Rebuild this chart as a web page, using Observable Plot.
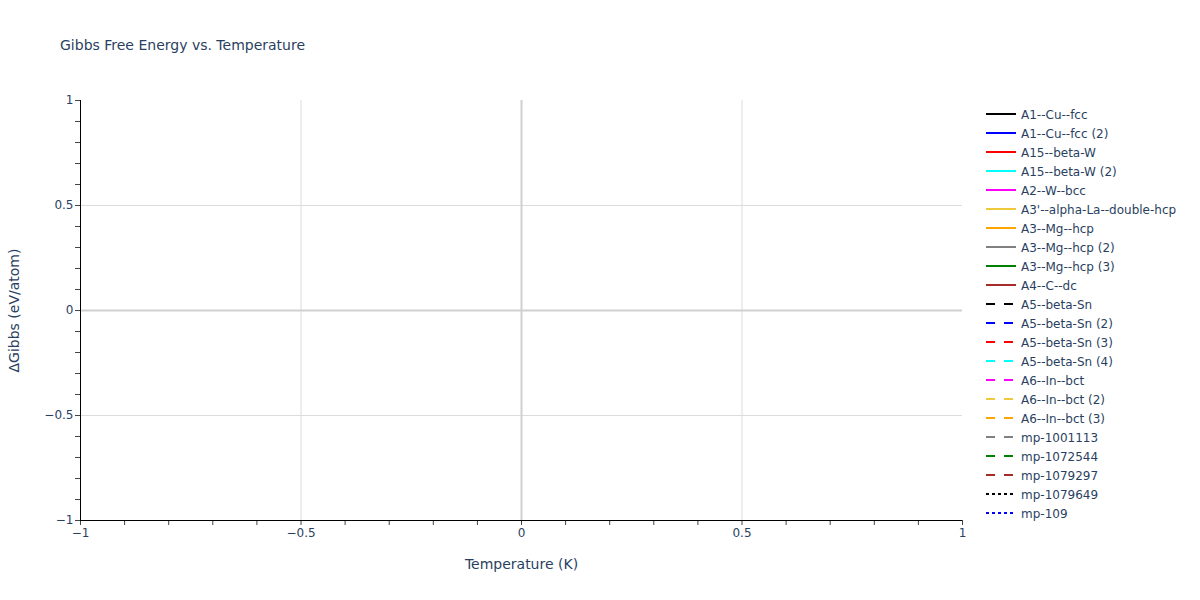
<!DOCTYPE html>
<html>
<head>
<meta charset="utf-8">
<script src="https://cdn.jsdelivr.net/npm/d3@7"></script>
<script src="https://cdn.jsdelivr.net/npm/@observablehq/plot@0.6"></script>
<style>
  html, body { margin: 0; padding: 0; background: #fff; }
  #wrap { position: relative; width: 1200px; height: 600px; font-family: "DejaVu Sans", Verdana, sans-serif; }
  #title { position: absolute; left: 60px; top: 37px; font-size: 14px; color: #2a3f5f; white-space: nowrap; }
  #legend { position: absolute; left: 980px; top: 102px; }
</style>
</head>
<body>
<div id="wrap">
  <div id="chart"></div>
  <div id="title">Gibbs Free Energy vs. Temperature</div>
  <svg id="legend" width="220" height="430"></svg>
</div>
<script>
// ---- data ----
const titleText = "Gibbs Free Energy vs. Temperature";
const xLabel = "Temperature (K)";
const yLabel = "ΔGibbs (eV/atom)";
const xDomain = [-1, 1];
const yDomain = [-1, 1];
const majorTicks = [-1, -0.5, 0, 0.5, 1];
const minorTicks = [-0.9, -0.8, -0.7, -0.6, -0.4, -0.3, -0.2, -0.1, 0.1, 0.2, 0.3, 0.4, 0.6, 0.7, 0.8, 0.9];
const gridValues = [-0.5, 0.5];
const zeroValues = [0];
const seriesNames = [
  "A1--Cu--fcc", "A1--Cu--fcc (2)", "A15--beta-W", "A15--beta-W (2)", "A2--W--bcc",
  "A3'--alpha-La--double-hcp", "A3--Mg--hcp", "A3--Mg--hcp (2)", "A3--Mg--hcp (3)", "A4--C--dc",
  "A5--beta-Sn", "A5--beta-Sn (2)", "A5--beta-Sn (3)", "A5--beta-Sn (4)", "A6--In--bct",
  "A6--In--bct (2)", "A6--In--bct (3)", "mp-1001113", "mp-1072544", "mp-1079297",
  "mp-1079649", "mp-109"
];
const seriesColors = [
  "#000000", "#0000ff", "#ff0000", "#00ffff", "#ff00ff",
  "#f0c83c", "#ffa500", "#808080", "#008000", "#a52a2a",
  "#000000", "#0000ff", "#ff0000", "#00ffff", "#ff00ff",
  "#f0c83c", "#ffa500", "#808080", "#008000", "#a52a2a",
  "#000000", "#0000ff"
];
const seriesDash = [
  "solid", "solid", "solid", "solid", "solid", "solid", "solid", "solid", "solid", "solid",
  "dash", "dash", "dash", "dash", "dash", "dash", "dash", "dash", "dash", "dash",
  "dot", "dot"
];

// ---- chart ----
const fontFamily = '"DejaVu Sans", Verdana, sans-serif';
const textColor = "#2a3f5f";
const fmt = d => (d < 0 ? "\u2212" : "") + Math.abs(d).toString();

const chart = Plot.plot({
  width: 1200,
  height: 600,
  marginLeft: 80,
  marginRight: 238,
  marginTop: 100,
  marginBottom: 80,
  style: { fontFamily, fontSize: "12px", color: textColor, background: "#fff" },
  x: { domain: xDomain },
  y: { domain: yDomain },
  marks: [
    Plot.ruleX(gridValues, { stroke: "#dcdcdc", strokeWidth: 1 }),
    Plot.ruleY(gridValues, { stroke: "#dcdcdc", strokeWidth: 1 }),
    Plot.ruleX(zeroValues, { stroke: "#d0d0d0", strokeWidth: 2 }),
    Plot.ruleY(zeroValues, { stroke: "#d0d0d0", strokeWidth: 2 }),
    Plot.axisX({ ticks: minorTicks, tickSize: 5, tickFormat: null, text: null, label: null, stroke: "#444", strokeOpacity: 1 }),
    Plot.axisY({ ticks: minorTicks, tickSize: 5, tickFormat: null, text: null, label: null, stroke: "#444", strokeOpacity: 1 }),
    Plot.axisX({ ticks: majorTicks, tickSize: 5, tickPadding: 3, tickFormat: fmt, label: null, stroke: "#444", strokeOpacity: 1, fill: textColor, fontSize: 12 }),
    Plot.axisY({ ticks: majorTicks, tickSize: 5, tickPadding: 2, tickFormat: fmt, label: null, stroke: "#444", strokeOpacity: 1, fill: textColor, fontSize: 12 }),
    Plot.ruleX([xDomain[0]], { stroke: "#000", strokeWidth: 1 }),
    Plot.ruleY([yDomain[0]], { stroke: "#000", strokeWidth: 1 }),
    Plot.text([xLabel], { frameAnchor: "bottom", dy: 48, text: d => d, fontSize: 14, fill: textColor }),
    Plot.text([yLabel], { frameAnchor: "left", textAnchor: "middle", dx: -66, rotate: -90, text: d => d, fontSize: 14, fill: textColor })
  ]
});
document.getElementById("chart").appendChild(chart);

// ---- legend ----
const dashMap = { solid: null, dash: "9,9", dot: "3,3" };
const leg = d3.select("#legend");
const rows = leg.selectAll("g").data(seriesNames).join("g")
  .attr("transform", (d, i) => `translate(0, ${12 + i * 19})`);
rows.append("line")
  .attr("x1", 6).attr("x2", 36).attr("y1", 0).attr("y2", 0)
  .attr("stroke", (d, i) => seriesColors[i])
  .attr("stroke-width", 2)
  .attr("stroke-dasharray", (d, i) => dashMap[seriesDash[i]]);
rows.append("text")
  .attr("x", 41).attr("y", 4.5)
  .attr("font-family", fontFamily)
  .attr("font-size", 12)
  .attr("fill", textColor)
  .text(d => d);
</script>
</body>
</html>
